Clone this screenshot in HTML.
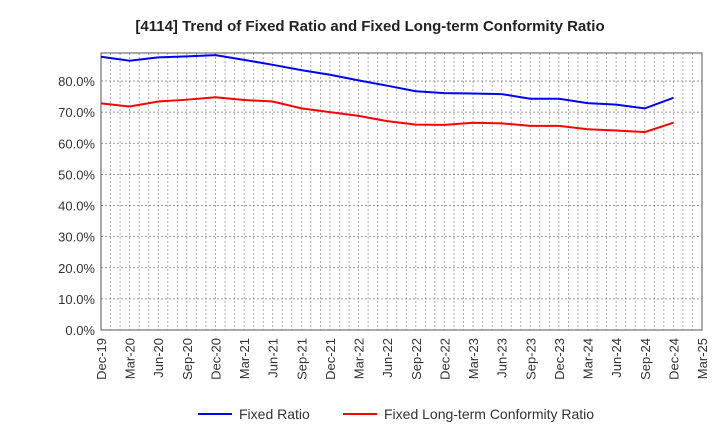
<!DOCTYPE html>
<html><head><meta charset="utf-8"><style>
body{margin:0;background:#fff;font-family:"Liberation Sans",sans-serif}
</style></head><body>
<svg id="chart" width="720" height="440" xmlns="http://www.w3.org/2000/svg" font-family="Liberation Sans, sans-serif">
<text x="370" y="31" text-anchor="middle" font-size="15" font-weight="bold" fill="#222">[4114]  Trend of Fixed Ratio and Fixed Long-term Conformity Ratio</text>
<g id="grid"></g><g id="axes"></g><g id="series"></g>
<g>
<line x1="198" y1="414" x2="232" y2="414" stroke="#0000ff" stroke-width="2"/>
<text x="239" y="419" font-size="14" fill="#333">Fixed Ratio</text>
<line x1="343" y1="414" x2="377" y2="414" stroke="#ff0000" stroke-width="2"/>
<text x="384" y="419" font-size="14" fill="#333">Fixed Long-term Conformity Ratio</text>
</g>
</svg>
<script>
const categories=["Dec-19","Mar-20","Jun-20","Sep-20","Dec-20","Mar-21","Jun-21","Sep-21","Dec-21","Mar-22","Jun-22","Sep-22","Dec-22","Mar-23","Jun-23","Sep-23","Dec-23","Mar-24","Jun-24","Sep-24","Dec-24","Mar-25"];
const fixedRatio=[87.8,86.5,87.6,87.9,88.3,86.8,85.2,83.5,82.0,80.2,78.5,76.7,76.1,76.0,75.8,74.3,74.3,72.9,72.4,71.2,74.6];
const conformityRatio=[72.8,71.8,73.4,74.0,74.8,73.9,73.4,71.2,70.0,68.8,67.1,66.0,65.9,66.6,66.4,65.6,65.6,64.5,64.1,63.6,66.6];
const yTicks=[0,10,20,30,40,50,60,70,80];
const NS="http://www.w3.org/2000/svg";
const L=101,R=702,T=53,B=330,YMAX=89;
const x=i=>L+(R-L)*i/(categories.length-1);
const y=v=>B-(B-T)*v/YMAX;
function mk(tag,attrs,parent){const e=document.createElementNS(NS,tag);for(const k in attrs)e.setAttribute(k,attrs[k]);parent.appendChild(e);return e;}
const grid=document.getElementById('grid'),axes=document.getElementById('axes'),ser=document.getElementById('series');
for(let i=0;i<categories.length*3-2;i++){const xx=L+(R-L)*i/((categories.length-1)*3);
 const g=mk('line',{x1:xx,x2:xx,y1:T,y2:B,stroke:'#999','stroke-dasharray':'2,2','stroke-width':0.8},grid);
 
 }
yTicks.forEach(v=>{const g=mk('line',{x1:L,x2:R,y1:y(v),y2:y(v),stroke:'#777','stroke-dasharray':'2,2','stroke-width':0.8},grid);
 
 
 const t=mk('text',{x:L-6,y:y(v)+5,'text-anchor':'end','font-size':13,fill:'#333'},axes);t.textContent=v.toFixed(1)+'%';
 
 });
categories.forEach((c,i)=>{const t=mk('text',{transform:`translate(${x(i)+5},${B+8}) rotate(-90)`,'text-anchor':'end','font-size':13,fill:'#333'},axes);t.textContent=c;
 
 });
const fr=mk('rect',{x:L,y:T,width:R-L,height:B-T,fill:'none',stroke:'#555','stroke-width':1},axes);


function line(data,color,name){const p=mk('polyline',{points:data.map((v,i)=>x(i)+','+y(v)).join(' '),fill:'none',stroke:color,'stroke-width':2},ser);
 
 }
line(fixedRatio,'#0000ff','fixed-ratio-line');
line(conformityRatio,'#ff0000','conformity-ratio-line');
</script>
</body></html>
